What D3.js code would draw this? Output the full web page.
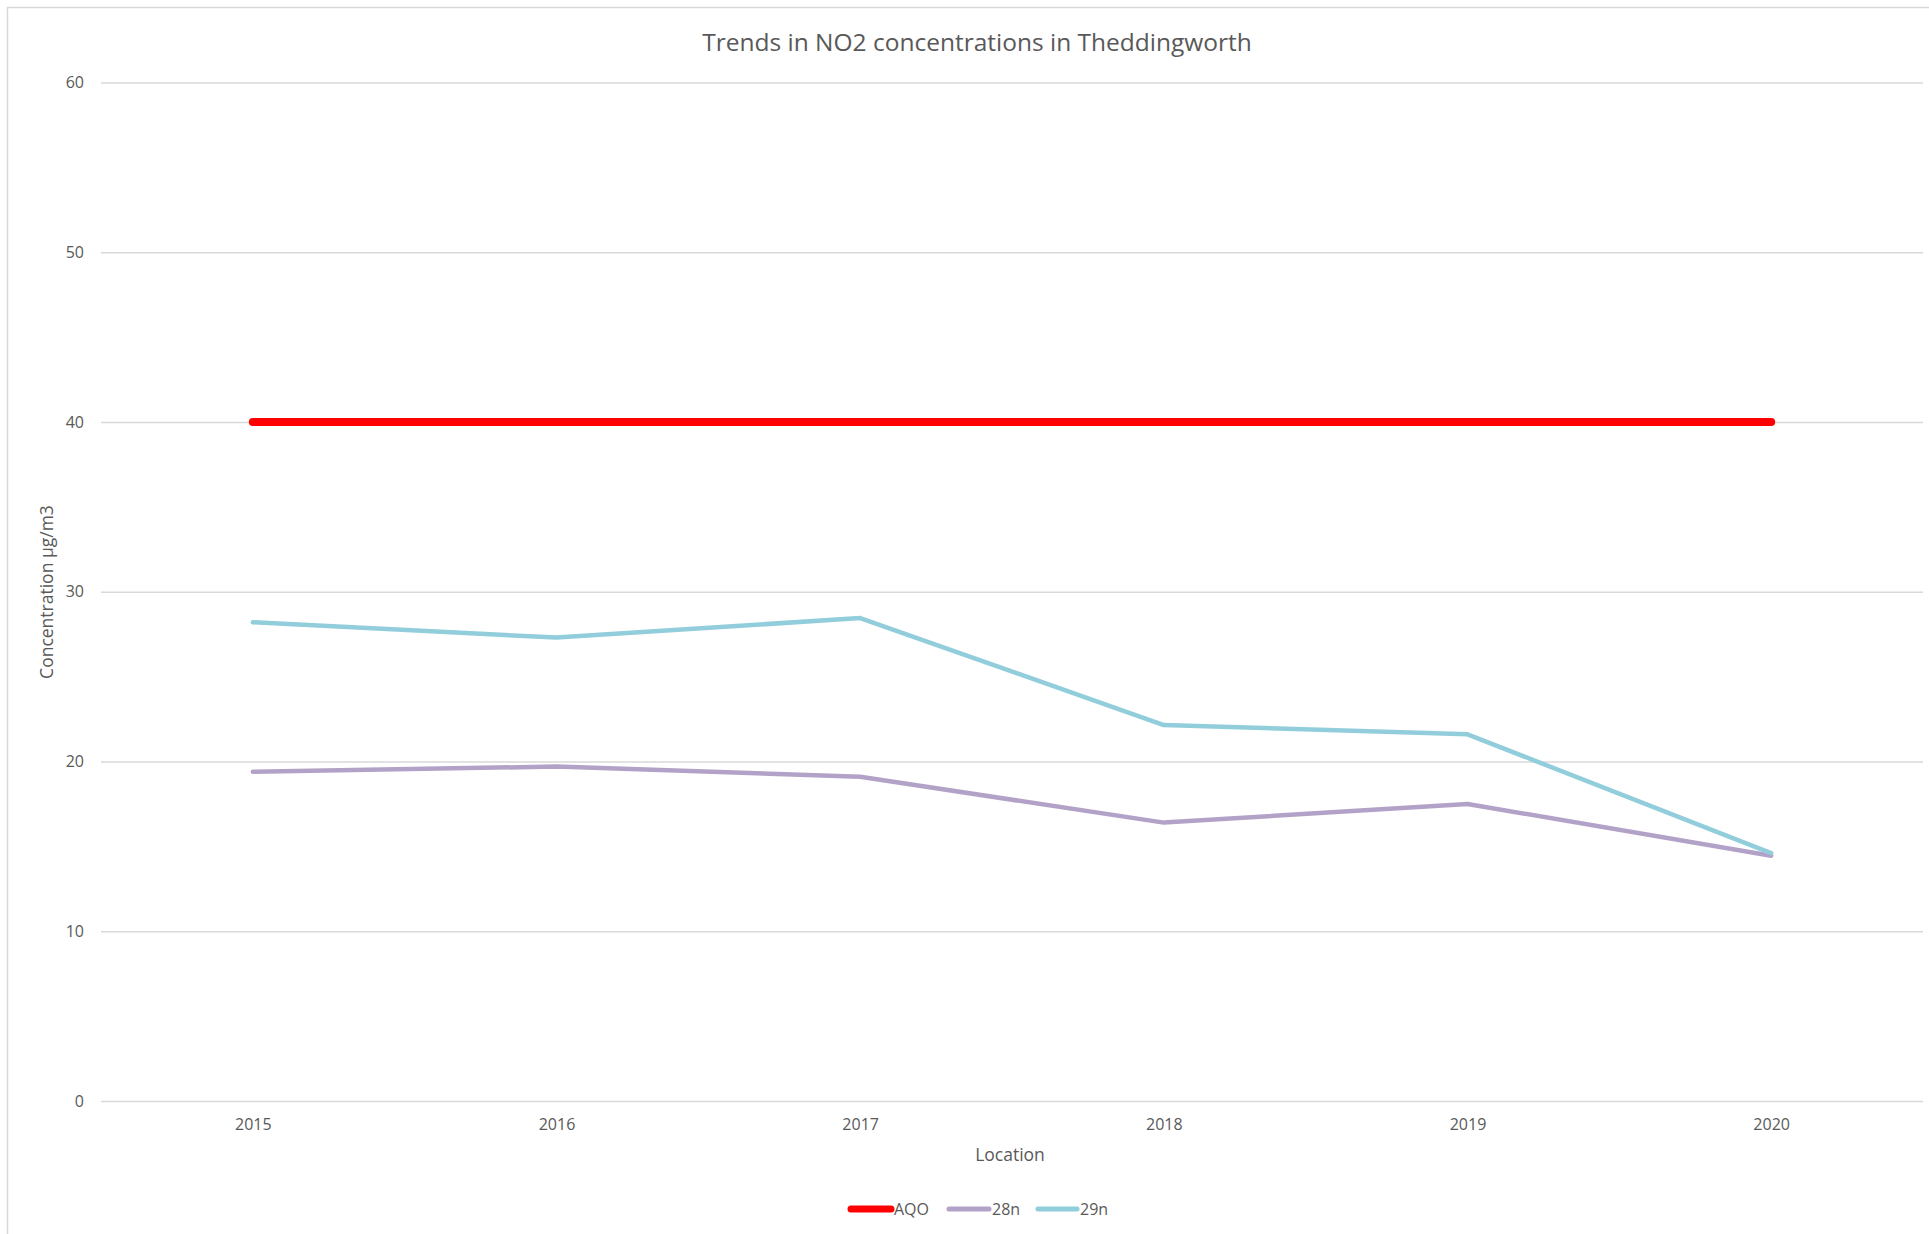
<!DOCTYPE html>
<html>
<head>
<meta charset="utf-8">
<script src="https://cdn.jsdelivr.net/npm/d3@7"></script>
<style>
  html, body { margin: 0; padding: 0; background: #ffffff; }
  svg { display: block; }
  text { font-family: "Open Sans", "Noto Sans", sans-serif; fill: #595959; }
</style>
</head>
<body>
<svg id="chart" width="1929" height="1234"></svg>
<script>
// ---- Data ----
const years = ["2015", "2016", "2017", "2018", "2019", "2020"];
const aqo   = [40, 40, 40, 40, 40, 40];
const s28n  = [19.4, 19.7, 19.1, 16.4, 17.5, 14.45];
const s29n  = [28.2, 27.3, 28.45, 22.15, 21.6, 14.6];
const yTicks = [0, 10, 20, 30, 40, 50, 60];
const seriesNames = ["AQO", "28n", "29n"];
const titleText = "Trends in NO2 concentrations in Theddingworth";
const xTitle = "Location";
const yTitle = "Concentration μg/m3";

const series = [
  { name: seriesNames[0], values: aqo,  color: "#ff0000", width: 8 },
  { name: seriesNames[1], values: s28n, color: "#b3a2c7", width: 4.5 },
  { name: seriesNames[2], values: s29n, color: "#92cddc", width: 4.5 }
];

const W = 1929, H = 1234;
const plot = { left: 101, right: 1923, top: 82.5, bottom: 1101 };

const svg = d3.select("#chart");

// chart border (left and top visible)
svg.append("line").attr("x1", 7.5).attr("x2", 7.5).attr("y1", 7).attr("y2", H)
  .attr("stroke", "#d9d9d9").attr("stroke-width", 1.5);
svg.append("line").attr("x1", 7).attr("x2", W).attr("y1", 7.5).attr("y2", 7.5)
  .attr("stroke", "#d9d9d9").attr("stroke-width", 1.5);

const x = d3.scalePoint().domain(years).range([plot.left, plot.right]).padding(0.5);
const y = d3.scaleLinear().domain([0, 60]).range([plot.bottom, plot.top]);

// Gridlines + y labels via axis
const yAxis = d3.axisLeft(y).tickValues(yTicks).tickSize(-(plot.right - plot.left)).tickPadding(17);
const gy = svg.append("g").attr("transform", `translate(${plot.left},0)`).call(yAxis);
gy.select(".domain").remove();
gy.selectAll(".tick line").attr("stroke", "#d9d9d9").attr("stroke-width", 1.5);
gy.selectAll(".tick text").attr("font-size", 16).attr("fill", "#595959")
  .attr("font-family", "Open Sans, Noto Sans, sans-serif");

// X axis labels
const xAxis = d3.axisBottom(x).tickSize(0).tickPadding(18);
const gx = svg.append("g").attr("transform", `translate(0,${plot.bottom})`).call(xAxis);
gx.select(".domain").remove();
gx.selectAll(".tick text").attr("font-size", 16).attr("fill", "#595959")
  .attr("font-family", "Open Sans, Noto Sans, sans-serif");

// Lines
const line = d3.line().x((d, i) => x(years[i])).y(d => y(d));
svg.append("g").selectAll("path").data(series).join("path")
  .attr("d", d => line(d.values))
  .attr("fill", "none")
  .attr("stroke", d => d.color)
  .attr("stroke-width", d => d.width)
  .attr("stroke-linejoin", "round")
  .attr("stroke-linecap", "round");

// Title
svg.append("text").attr("x", 977).attr("y", 51).attr("text-anchor", "middle")
  .attr("font-size", 24.5).text(titleText);

// Axis titles
svg.append("text").attr("x", 1010).attr("y", 1161).attr("text-anchor", "middle")
  .attr("font-size", 17.5).text(xTitle);
svg.append("text").attr("transform", "translate(53,592) rotate(-90)")
  .attr("text-anchor", "middle").attr("font-size", 17.5).text(yTitle);

// Legend
const legendItems = [
  { x1: 851, x2: 891, tx: 894 },
  { x1: 949, x2: 989, tx: 992 },
  { x1: 1038, x2: 1077, tx: 1080 }
];
const lg = svg.append("g");
series.forEach((s, i) => {
  const L = legendItems[i];
  lg.append("line").attr("x1", L.x1).attr("x2", L.x2).attr("y1", 1209).attr("y2", 1209)
    .attr("stroke", s.color).attr("stroke-width", s.width === 8 ? 7 : 5)
    .attr("stroke-linecap", "round");
  lg.append("text").attr("x", L.tx).attr("y", 1215).attr("font-size", 16).text(s.name);
});
</script>
</body>
</html>
